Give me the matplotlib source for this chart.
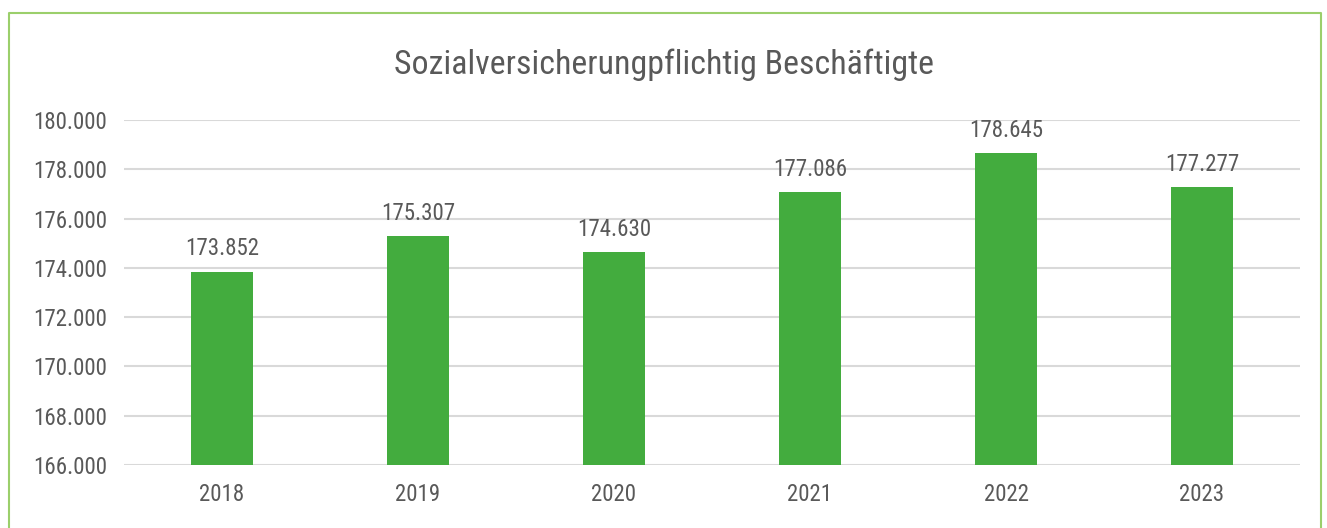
import matplotlib.pyplot as plt
from matplotlib.lines import Line2D
from matplotlib.ticker import FuncFormatter

years = ['2018', '2019', '2020', '2021', '2022', '2023']
values = [173852, 175307, 174630, 177086, 178645, 177277]
y_ticks = [166000, 168000, 170000, 172000, 174000, 176000, 178000, 180000]

text_col = '#595959'
bar_col = '#43AC3E'
plt.rcParams['font.family'] = ['Roboto Condensed', 'Roboto', 'DejaVu Sans']


def de_fmt(v, pos=None):
    return f'{int(v):,}'.replace(',', '.')


fig = plt.figure(figsize=(13.27, 5.28), dpi=100)
ax = fig.add_axes([0.0934, 0.1193, 0.8863, 0.6534])

x = range(len(years))
ax.bar(x, values, width=0.32, color=bar_col, zorder=3)
for i, v in zip(x, values):
    ax.annotate(de_fmt(v), (i, v), xytext=(0, 8), textcoords='offset points',
                ha='center', va='bottom', fontsize=16.5, color=text_col)

ax.set_ylim(166000, 180000)
ax.set_xlim(-0.5, len(years) - 0.5)
ax.set_yticks(y_ticks)
ax.yaxis.set_major_formatter(FuncFormatter(de_fmt))
ax.set_xticks(list(x))
ax.set_xticklabels(years)
ax.tick_params(axis='both', length=0, labelsize=16.5, labelcolor=text_col)
ax.tick_params(axis='y', pad=12)
ax.tick_params(axis='x', pad=13)
ax.grid(axis='y', color='#D9D9D9', linewidth=1.5, zorder=0)
for s in ax.spines.values():
    s.set_visible(False)

fig.text(0.5, 0.878, 'Sozialversicherungpflichtig Beschäftigte', ha='center',
         va='center', fontsize=24.4, color=text_col)

# green frame (left, top, right)
frame = '#9BCF6B'
fig.add_artist(Line2D([0.0065, 0.0065, 0.9955, 0.9955], [0, 0.975, 0.975, 0],
                      color=frame, linewidth=1.5, transform=fig.transFigure))

fig.savefig('out.png', dpi=100)
